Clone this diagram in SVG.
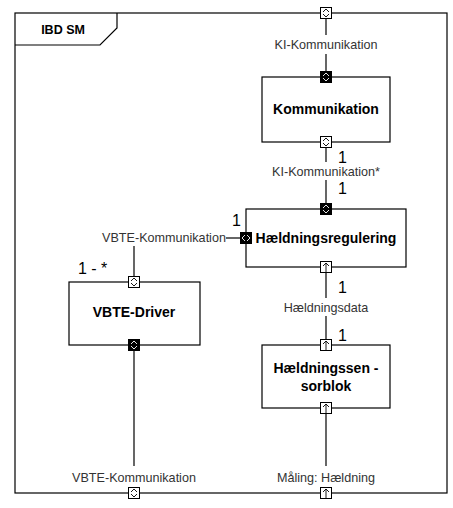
<svg xmlns="http://www.w3.org/2000/svg" width="453" height="508" viewBox="0 0 453 508">
<defs>
<style>
.frame{fill:none;stroke:#000;stroke-width:1.2}
.blk{fill:#fff;stroke:#000;stroke-width:1.2}
.ln{fill:none;stroke:#000;stroke-width:1.2}
.pw{fill:#fff;stroke:#000;stroke-width:1}
.pb{fill:#000;stroke:#000;stroke-width:1}
.gw{fill:none;stroke:#000;stroke-width:0.9}
.gb{fill:none;stroke:#fff;stroke-width:0.9}
.lbl{font-family:"Liberation Sans",Arial,sans-serif;font-size:12.6px;fill:#333;text-anchor:middle}
.mul{font-family:"Liberation Sans",Arial,sans-serif;font-size:16px;fill:#000}
.ttl{font-family:"Liberation Sans",Arial,sans-serif;font-size:14px;font-weight:bold;fill:#000;text-anchor:middle}
</style>
<g id="pvw"><rect class="pw" x="-5.5" y="-5.5" width="11" height="11"/><path class="gw" d="M-3,-1 L0,-4 L3,-1 M-3,1 L0,4 L3,1"/></g>
<g id="pvb"><rect class="pb" x="-5.5" y="-5.5" width="11" height="11"/><path class="gb" d="M-3,-1 L0,-4 L3,-1 M-3,1 L0,4 L3,1"/></g>
<g id="phb"><rect class="pb" x="-5.5" y="-5.5" width="11" height="11"/><path class="gb" d="M-1,-3 L-4,0 L-1,3 M1,-3 L4,0 L1,3"/></g>
<g id="pup"><rect class="pw" x="-5.5" y="-5.5" width="11" height="11"/><path class="gw" d="M-3,-1 L0,-4 L3,-1 M0,-4 L0,5.5"/></g>
</defs>

<g id="frame">
<rect class="frame" x="15" y="13" width="432" height="480"/>
<path class="frame" d="M15,45 L100,45 L117,28 L117,13"/>
<text x="63" y="34" class="ttl" style="font-size:12.5px">IBD SM</text>
</g>

<g id="connectors">
<line class="ln" x1="326" y1="13" x2="326" y2="35"/>
<line class="ln" x1="326" y1="54" x2="326" y2="77"/>
<line class="ln" x1="326" y1="142" x2="326" y2="162"/>
<line class="ln" x1="326" y1="180" x2="326" y2="209"/>
<line class="ln" x1="326" y1="267" x2="326" y2="298"/>
<line class="ln" x1="326" y1="316" x2="326" y2="345"/>
<line class="ln" x1="326" y1="408" x2="326" y2="466"/>
<line class="ln" x1="226" y1="238" x2="246" y2="238"/>
<line class="ln" x1="134" y1="246" x2="134" y2="282"/>
<line class="ln" x1="134" y1="345" x2="134" y2="466"/>
</g>

<g id="labels">
<text x="326" y="49" class="lbl">KI-Kommunikation</text>
<text x="326" y="176" class="lbl">KI-Kommunikation*</text>
<text x="164" y="242" class="lbl">VBTE-Kommunikation</text>
<text x="326" y="312" class="lbl">Hældningsdata</text>
<text x="134" y="482" class="lbl">VBTE-Kommunikation</text>
<text x="326" y="482" class="lbl">Måling: Hældning</text>
<text x="338" y="163" class="mul">1</text>
<text x="338" y="194" class="mul">1</text>
<text x="232" y="226" class="mul">1</text>
<text x="78" y="274" class="mul">1 - *</text>
<text x="338" y="293" class="mul">1</text>
<text x="338" y="341" class="mul">1</text>
</g>

<g id="kommunikation">
<rect class="blk" x="262" y="77" width="128" height="65"/>
<text x="326" y="114" class="ttl">Kommunikation</text>
<use href="#pvb" x="326" y="77"/>
<use href="#pvw" x="326" y="142"/>
</g>

<g id="haeldningsregulering">
<rect class="blk" x="246" y="209" width="160" height="58"/>
<text x="326" y="243" class="ttl">Hældningsregulering</text>
<use href="#pvb" x="326" y="209"/>
<use href="#phb" x="246" y="238"/>
<use href="#pup" x="326" y="267"/>
</g>

<g id="vbte-driver">
<rect class="blk" x="69" y="282" width="131" height="63"/>
<text x="134" y="317" class="ttl">VBTE-Driver</text>
<use href="#pvw" x="134" y="282"/>
<use href="#pvb" x="134" y="345"/>
</g>

<g id="haeldningssensorblok">
<rect class="blk" x="262" y="345" width="128" height="63"/>
<text x="326" y="373" class="ttl">Hældningssen -</text>
<text x="326" y="391" class="ttl">sorblok</text>
<use href="#pup" x="326" y="345"/>
<use href="#pup" x="326" y="408"/>
</g>

<g id="boundary-ports">
<use href="#pvw" x="326" y="13"/>
<use href="#pvw" x="134" y="493"/>
<use href="#pup" x="326" y="493"/>
</g>
</svg>
